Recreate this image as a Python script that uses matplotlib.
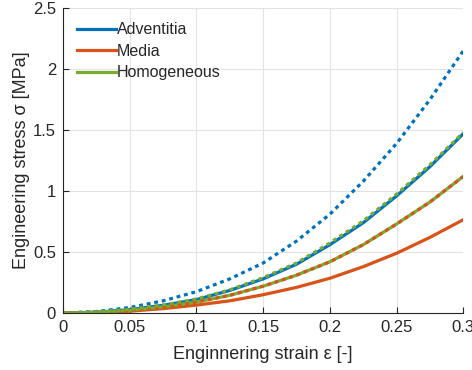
import matplotlib
matplotlib.use("Agg")
import matplotlib.pyplot as plt

plt.rcParams['font.family'] = ['Liberation Sans', 'DejaVu Sans']

# strain values
strain = [0, 0.025, 0.05, 0.075, 0.1, 0.125, 0.15, 0.175, 0.2, 0.225, 0.25, 0.275, 0.3]

# solid curves
adv_solid = [0, 0.007, 0.028, 0.063, 0.11, 0.185, 0.28, 0.40, 0.56, 0.74, 0.96, 1.20, 1.47]
med_solid = [0, 0.004, 0.015, 0.036, 0.065, 0.10, 0.15, 0.21, 0.285, 0.38, 0.49, 0.62, 0.765]
hom_solid = [0, 0.006, 0.022, 0.05, 0.09, 0.145, 0.22, 0.31, 0.42, 0.56, 0.73, 0.91, 1.12]

# dotted curves
adv_dot = [0, 0.012, 0.045, 0.10, 0.175, 0.28, 0.41, 0.59, 0.81, 1.08, 1.39, 1.75, 2.15]
med_dot = [0, 0.006, 0.022, 0.05, 0.09, 0.145, 0.22, 0.31, 0.42, 0.56, 0.73, 0.91, 1.12]
hom_dot = [0, 0.008, 0.03, 0.066, 0.115, 0.19, 0.29, 0.41, 0.575, 0.755, 0.975, 1.215, 1.48]

labels = ['Adventitia', 'Media', 'Homogeneous']
colors = ['#0072BD', '#D95319', '#77AC30']
txt = '#262626'

fig = plt.figure(figsize=(4.72, 3.7), dpi=100)
ax = fig.add_axes([0.1335, 0.154, 0.848, 0.824])

lw = 2.3
dots = (0, (1.2, 1.2))

#solid lines
for ys, c, lab in zip([adv_solid, med_solid, hom_solid], colors, labels):
    ax.plot(strain, ys, color=c, lw=lw, label=lab)

#dotted lines
for ys, c in zip([adv_dot, med_dot, hom_dot], colors):
    ax.plot(strain, ys, color=c, lw=lw, linestyle=dots)

ax.set_xlim(0, 0.3)
ax.set_ylim(0, 2.5)
ax.set_xticks([0, 0.05, 0.1, 0.15, 0.2, 0.25, 0.3])
ax.set_xticklabels(['0', '0.05', '0.1', '0.15', '0.2', '0.25', '0.3'])
ax.set_yticks([0, 0.5, 1, 1.5, 2, 2.5])
ax.set_yticklabels(['0', '0.5', '1', '1.5', '2', '2.5'])

ax.grid(True, color='#e3e3e3', lw=0.8)
ax.set_axisbelow(True)
for s in ['top', 'right']:
    ax.spines[s].set_visible(False)
for s in ['left', 'bottom']:
    ax.spines[s].set_color(txt)
    ax.spines[s].set_linewidth(0.8)
ax.tick_params(direction='in', length=4, colors=txt, labelsize=12, pad=5)

ax.set_xlabel('Enginnering strain ε [-]', fontsize=13, color=txt, labelpad=8)
ax.set_ylabel('Engineering stress σ [MPa]', fontsize=13, color=txt, labelpad=2)

leg = ax.legend(loc='upper left', frameon=False, fontsize=11.5, handlelength=2.4,
                handletextpad=0.05, labelspacing=0.4, borderaxespad=0.3,
                bbox_to_anchor=(0.008, 0.99))
for t in leg.get_texts():
    t.set_color(txt)

fig.savefig('out.png', dpi=100)
